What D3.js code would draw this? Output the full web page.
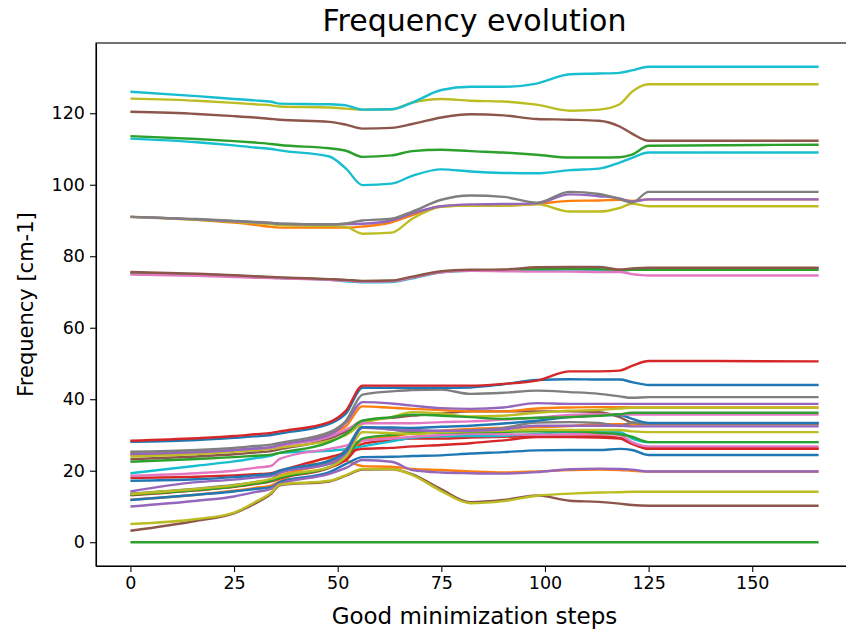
<!DOCTYPE html>
<html>
<head>
<meta charset="utf-8">
<title>Frequency evolution</title>
<script src="https://cdn.jsdelivr.net/npm/d3@7"></script>
<style>
  body { margin: 0; background: #fff; }
  .axis text { font-family: "DejaVu Sans", sans-serif; font-size: 17.5px; fill: #000; }
  .axis path, .axis line { stroke: #000; stroke-width: 1.1; }
  .label { font-family: "DejaVu Sans", sans-serif; fill: #000; }
</style>
</head>
<body>
<script>
var steps = [0, 16, 25, 30, 34, 36, 48, 52, 56, 63, 68, 75, 82, 90, 98, 106, 113, 118, 121, 125, 166];

// upper modes
var cyanTop  = [126.0,124.8,124.0,123.6,123.2,122.7,122.5,122.2,121.0,121.1,123.0,126.5,127.4,127.4,128.3,130.9,131.1,131.3,132.0,133.0,133.0];
var oliveTop = [124.1,123.5,122.9,122.5,122.2,121.9,121.6,121.3,121.0,121.1,123.0,124.0,123.5,123.3,122.4,120.7,121.0,122.5,126.0,128.1,128.1];
var brownTop = [120.4,119.8,119.2,118.8,118.4,118.2,117.6,116.8,115.7,115.9,117.0,118.8,119.7,119.4,118.4,118.2,117.9,116.3,114.3,112.3,112.3];
var greenTop = [113.6,112.8,112.2,111.8,111.4,111.1,110.2,109.5,107.8,108.2,109.4,109.8,109.4,109.0,108.4,107.6,107.6,107.7,108.4,110.9,111.2];
var cyanMid  = [112.9,111.9,111.0,110.4,110.0,109.6,107.9,104.5,99.9,100.3,102.5,104.3,103.7,103.3,103.2,104.1,104.5,106.2,107.5,109.0,109.0];

// modes around 90
var orange90 = [91.0,90.2,89.4,88.8,88.2,88.0,88.0,88.0,88.3,89.5,91.5,94.0,94.2,94.2,94.6,95.5,95.6,95.8,95.5,95.9,95.9];
var olive90  = [91.0,90.2,89.6,89.3,89.0,88.7,88.5,88.2,86.3,86.6,90.5,93.8,94.2,94.2,94.6,92.5,92.5,93.5,94.7,94.0,94.0];
var purple90 = [91.0,90.3,89.8,89.5,89.3,89.1,88.9,89.0,89.1,90.0,92.0,94.0,94.5,94.6,94.8,97.3,96.8,96.2,95.3,95.9,95.9];
var gray90   = [91.0,90.4,89.9,89.6,89.3,89.1,88.9,89.2,90.0,90.5,92.5,95.8,97.0,96.6,95.0,98.0,97.4,96.0,95.0,98.0,98.0];

// modes around 75
var cyan75  = [75.2,74.8,74.5,74.2,74.0,73.9,73.4,73.0,72.7,72.8,73.8,75.5,75.9,76.0,76.2,76.3,76.2,76.0,76.3,76.5,76.5];
var green75 = [75.4,74.9,74.6,74.3,74.1,74.0,73.5,73.3,73.0,73.1,74.1,75.6,76.0,76.1,76.4,76.5,76.4,76.1,76.2,76.2,76.2];
var pink75  = [74.9,74.5,74.2,74.0,73.9,73.8,73.4,73.2,72.9,73.0,74.0,75.5,75.9,75.8,75.7,75.7,75.6,75.6,75.0,74.6,74.6];
var brown75 = [75.6,75.1,74.7,74.4,74.2,74.1,73.6,73.4,73.1,73.2,74.3,75.8,76.2,76.3,76.9,77.0,77.0,76.3,76.6,76.8,76.8];

// low modes
var redA    = [28.4,29.1,29.7,30.2,30.6,31.0,33.6,36.8,43.8,43.8,43.8,43.8,43.8,44.3,45.2,47.8,47.8,48.0,49.3,50.7,50.6];
var blueA   = [28.1,28.6,29.2,29.6,30.0,30.4,33.1,36.0,43.2,43.2,43.2,43.2,43.3,44.2,45.4,45.6,45.5,45.5,44.8,44.0,44.0];
var grayA   = [25.3,25.8,26.4,26.9,27.3,27.8,30.8,34.0,41.3,42.2,42.6,42.7,41.5,41.8,42.4,42.0,41.5,40.8,40.4,40.6,40.6];
var purpleA = [24.7,25.2,25.8,26.2,26.6,27.2,30.0,33.5,39.2,38.8,38.2,37.5,37.3,37.7,38.9,38.7,38.7,38.7,38.7,38.7,38.7];
var orangeA = [24.5,25.0,25.6,26.0,26.3,26.9,30.3,32.5,38.0,37.6,37.3,37.0,36.6,36.6,37.4,37.7,37.8,37.8,37.7,37.7,37.7];
var oliveA  = [24.0,24.7,25.3,25.7,26.1,26.5,28.4,30.0,33.1,35.0,36.4,36.0,35.2,35.4,36.2,36.8,37.0,37.4,37.6,37.6,37.6];
var greenA  = [22.5,23.3,23.8,24.2,24.5,25.0,28.0,30.3,34.0,35.0,35.7,35.4,35.0,34.5,34.8,35.0,35.4,35.8,36.2,36.2,36.2];
var pinkA   = [24.8,25.3,25.8,26.2,26.5,27.0,29.5,31.5,33.3,33.3,33.3,33.6,33.8,34.3,34.8,35.6,35.8,35.8,35.7,35.7,35.7];
var brownA  = [23.2,24.0,24.6,25.1,25.5,26.0,29.0,31.0,34.0,34.8,35.4,36.0,36.6,36.6,36.6,36.6,36.4,35.0,33.5,33.2,33.2];
var blueB   = [17.2,17.6,18.2,18.7,19.1,20.0,22.8,25.5,32.2,32.1,32.0,32.3,32.6,33.2,34.0,35.0,35.5,35.6,34.5,33.4,33.4];
var purpleB = [14.2,16.8,17.5,18.1,18.6,19.5,21.9,25.0,32.0,31.6,31.4,31.2,31.2,31.6,32.6,32.6,32.6,32.6,32.4,32.4,32.4];
var grayB   = [13.6,15.0,16.0,16.8,17.6,19.4,22.5,26.0,32.2,31.5,30.8,31.0,31.3,32.0,33.5,33.6,33.4,32.5,33.5,33.2,33.2];
var oliveB  = [13.5,14.9,15.9,16.8,17.7,18.5,21.0,24.0,30.8,30.5,30.3,30.8,31.0,31.2,31.4,31.4,31.4,31.4,31.0,30.8,30.8];
var orangeB = [13.4,14.8,15.8,16.7,17.6,18.6,22.0,23.5,28.4,29.5,30.5,31.2,31.7,32.0,32.2,32.5,33.0,33.0,33.0,33.0,33.0];
var orangeC = [11.9,13.3,14.4,15.2,15.9,17.0,23.5,22.8,21.3,21.1,20.5,20.2,19.8,19.5,19.8,20.2,20.3,20.2,20.0,19.8,19.8];
var cyanB   = [19.3,21.4,22.6,23.5,24.2,25.0,25.6,26.0,26.8,28.2,29.2,29.6,29.7,29.8,30.3,30.8,30.8,30.8,29.0,28.0,28.0];
var pinkB   = [18.6,19.3,20.0,20.8,21.4,23.3,26.1,27.0,28.4,29.0,29.5,30.0,30.3,30.2,30.1,30.2,30.3,30.0,28.0,26.8,26.8];
var redB    = [18.0,18.3,18.7,19.0,19.3,20.0,23.8,25.0,26.1,26.4,26.8,27.2,27.7,28.5,29.4,29.4,29.3,29.0,27.5,26.1,26.1];
var greenB  = [13.3,14.6,15.6,16.4,17.2,18.0,21.0,24.0,29.0,30.0,30.5,30.7,30.8,30.9,31.0,31.0,30.6,30.2,29.5,28.0,28.0];
var redC    = [13.1,14.5,15.5,16.3,17.0,17.8,20.8,23.0,27.5,28.5,29.0,29.0,29.3,29.5,29.6,29.6,29.6,29.2,27.6,26.3,26.3];
var blueC   = [11.8,13.3,14.2,14.9,15.4,16.8,19.6,21.9,23.8,23.9,24.1,24.3,24.8,25.2,25.7,25.8,25.8,26.1,25.8,24.4,24.4];
var purpleC = [10.0,11.6,12.8,14.0,15.0,16.3,19.1,20.8,23.0,22.5,20.2,19.5,19.3,19.2,19.6,20.4,20.6,20.5,20.3,19.8,19.8];
var oliveC  = [5.1,6.5,8.3,11.2,13.9,16.1,17.2,18.8,20.5,20.5,18.8,14.3,10.9,11.5,13.0,13.6,13.9,14.0,14.1,14.1,14.1];
var brownC  = [3.2,6.0,8.1,10.8,13.6,15.9,17.0,18.6,20.3,20.4,19.0,14.8,11.2,11.8,13.1,11.6,11.3,10.8,10.4,10.2,10.2];
var greenZero = [0,0,0,0,0,0,0,0,0,0,0,0,0,0,0,0,0,0,0,0,0];

var xTicks = [0, 25, 50, 75, 100, 125, 150];
var yTicks = [0, 20, 40, 60, 80, 100, 120];

// tab10
var C = {blue:"#1f77b4", orange:"#ff7f0e", green:"#2ca02c", red:"#d62728", purple:"#9467bd",
         brown:"#8c564b", pink:"#e377c2", gray:"#7f7f7f", olive:"#bcbd22", cyan:"#17becf"};

// drawing order (later on top)
var series = [
  [greenZero, C.green],
  [orangeC, C.orange], [orangeB, C.orange], [brownA, C.brown], [redC, C.red], [cyanB, C.cyan], [grayB, C.gray],
  [redB, C.red], [pinkB, C.pink], [greenB, C.green], [oliveB, C.olive], [blueC, C.blue], [purpleC, C.purple],
  [brownC, C.brown], [oliveC, C.olive], [purpleB, C.purple], [blueB, C.blue],
  [orangeA, C.orange], [oliveA, C.olive], [pinkA, C.pink], [greenA, C.green], [purpleA, C.purple],
  [grayA, C.gray], [blueA, C.blue], [redA, C.red],
  [cyan75, C.cyan], [green75, C.green], [pink75, C.pink], [brown75, C.brown],
  [orange90, C.orange], [olive90, C.olive], [purple90, C.purple], [gray90, C.gray],
  [cyanMid, C.cyan], [greenTop, C.green], [brownTop, C.brown], [oliveTop, C.olive], [cyanTop, C.cyan]
];

var width = 846, height = 633;
var margin = {top: 43, right: -7, bottom: 67, left: 96};

var svg = d3.select("body").append("svg")
  .attr("width", width).attr("height", height)
  .style("background", "#fff");

// matplotlib style 5% padding
var xExt = d3.extent(steps), xPad = (xExt[1] - xExt[0]) * 0.05;
var allV = series.map(function(s){ return s[0]; }).flat();
var yExt = d3.extent(allV), yPad = (yExt[1] - yExt[0]) * 0.05;

var x = d3.scaleLinear().domain([xExt[0] - xPad, xExt[1] + xPad]).range([margin.left, width - margin.right]);
var y = d3.scaleLinear().domain([yExt[0] - yPad, yExt[1] + yPad]).range([height - margin.bottom, margin.top]);

var line = d3.line()
  .x(function(d, i){ return x(steps[i]); })
  .y(function(d){ return y(d); })
  .curve(d3.curveMonotoneX);

svg.append("g").selectAll("path")
  .data(series).enter()
  .append("path")
  .attr("d", function(s){ return line(s[0]); })
  .attr("fill", "none")
  .attr("stroke", function(s){ return s[1]; })
  .attr("stroke-width", 2.4)
  .attr("stroke-linejoin", "round");

// axes
var xAxis = d3.axisBottom(x).tickValues(xTicks).tickSize(6).tickPadding(5).tickSizeOuter(0);
svg.append("g").attr("class", "axis")
  .attr("transform", "translate(0," + (height - margin.bottom) + ")")
  .call(xAxis);

var yAxis = d3.axisLeft(y).tickValues(yTicks).tickSize(6).tickPadding(5).tickSizeOuter(0);
svg.append("g").attr("class", "axis")
  .attr("transform", "translate(" + margin.left + ",0)")
  .call(yAxis);

// frame
svg.append("rect")
  .attr("x", margin.left).attr("y", margin.top)
  .attr("width", width - margin.right - margin.left)
  .attr("height", height - margin.bottom - margin.top)
  .attr("fill", "none").attr("stroke", "#000").attr("stroke-width", 1.1);

// labels
svg.append("text").attr("class", "label")
  .attr("x", (margin.left + width - margin.right) / 2).attr("y", 31)
  .attr("text-anchor", "middle").style("font-size", "30px")
  .text("Frequency evolution");

svg.append("text").attr("class", "label")
  .attr("x", (margin.left + width - margin.right) / 2).attr("y", 624)
  .attr("text-anchor", "middle").style("font-size", "23px")
  .text("Good minimization steps");

svg.append("text").attr("class", "label")
  .attr("transform", "translate(33," + ((margin.top + height - margin.bottom) / 2) + ") rotate(-90)")
  .attr("text-anchor", "middle").style("font-size", "21px")
  .text("Frequency [cm-1]");
</script>
</body>
</html>
